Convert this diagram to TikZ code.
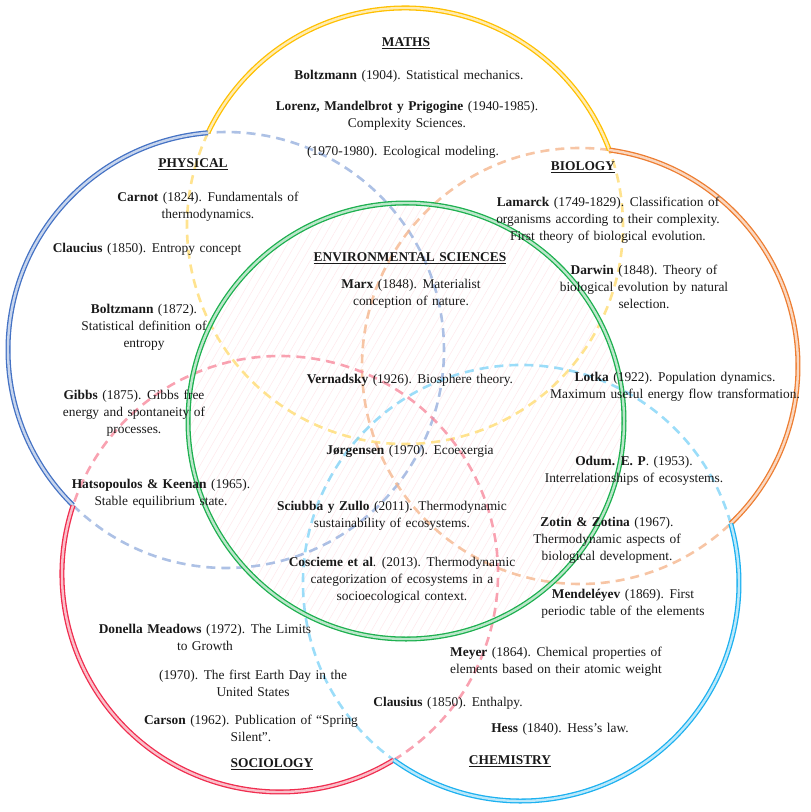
\documentclass[tikz,border=0pt]{standalone}
\usepackage{fontspec}
\setmainfont[WordSpace={1.35}]{Liberation Serif}
\usetikzlibrary{patterns.meta}
\definecolor{cY}{HTML}{FFC000}
\definecolor{cB}{HTML}{4472C4}
\definecolor{cO}{HTML}{ED7D31}
\definecolor{cR}{HTML}{F02D4F}
\definecolor{cC}{HTML}{1CB1F0}
\definecolor{cG}{HTML}{1DB04F}
\newcommand{\fsz}{\fontsize{13.4}{17}\selectfont}
\tikzset{
  txt/.style={font=\fsz, align=center, inner sep=0pt, text=black!90},
  ttl/.style={font=\fsz\bfseries, inner sep=0pt, text=black!90},
  solidring/.style={draw=#1, line width=1.3pt, double=#1!30, double distance=2.4pt},
  dashring/.style={draw=#1!55, line width=2.6pt, dash pattern=on 9pt off 6pt, opacity=0.8},
}
\newcommand{\ttltext}[1]{\underline{#1}}
\begin{document}
\begin{tikzpicture}[x=1pt,y=1pt]
\useasboundingbox (0,-812) rectangle (811,0);
\def\R{218}
\coordinate (Y) at (405,-226);
\coordinate (B) at (226,-350);
\coordinate (O) at (580,-366);
\coordinate (Rd) at (280,-574);
\coordinate (C) at (521,-583);
\coordinate (G) at (406,-421);
% faint hatching inside the central circle
\fill[pattern={Lines[angle=60,distance=7pt,line width=0.6pt]}, pattern color=cR!10] (G) circle[radius=\R];
% inner dashed portions
\draw[dashring=cY] ([shift={(154.7:\R)}]Y) arc[start angle=154.7, end angle=380.4, radius=\R];
\draw[dashring=cB] ([shift={(225.4:\R)}]B) arc[start angle=225.4, end angle=454.8, radius=\R];
\draw[dashring=cO] ([shift={(82.3:\R)}]O) arc[start angle=82.3, end angle=313.7, radius=\R];
\draw[dashring=cR] ([shift={(301.4:\R)}]Rd) arc[start angle=301.4, end angle=521.7, radius=\R];
\draw[dashring=cC] ([shift={(15.8:\R)}]C) arc[start angle=15.8, end angle=234.3, radius=\R];
% outer solid portions
\draw[solidring=cY] ([shift={(20.4:\R)}]Y) arc[start angle=20.4, end angle=154.7, radius=\R];
\draw[solidring=cB] ([shift={(94.8:\R)}]B) arc[start angle=94.8, end angle=225.4, radius=\R];
\draw[solidring=cO] ([shift={(-46.3:\R)}]O) arc[start angle=-46.3, end angle=82.3, radius=\R];
\draw[solidring=cR] ([shift={(161.7:\R)}]Rd) arc[start angle=161.7, end angle=301.4, radius=\R];
\draw[solidring=cC] ([shift={(234.3:\R)}]C) arc[start angle=234.3, end angle=375.8, radius=\R];
\draw[solidring=cG] (G) circle[radius=\R];
% MATHS
\node[ttl] (tM) at (406,-43) {\ttltext{MATHS}};
\node[txt] (m1) at (409,-76) {\textbf{Boltzmann} (1904). Statistical mechanics.};
\node[txt] (m2) at (407,-115.5) {\textbf{Lorenz, Mandelbrot y Prigogine} (1940-1985).\\Complexity Sciences.};
\node[txt] (m3) at (403,-152) {(1970-1980). Ecological modeling.};
% PHYSICAL
\node[ttl] (tP) at (193,-164) {\ttltext{PHYSICAL}};
\node[txt] (p1) at (208,-206.5) {\textbf{Carnot} (1824). Fundamentals of\\thermodynamics.};
\node[txt] (p2) at (147,-249) {\textbf{Claucius} (1850). Entropy concept};
\node[txt] (p3) at (144,-327) {\textbf{Boltzmann} (1872).\\Statistical definition of\\entropy};
\node[txt] (p4) at (134,-413.5) {\textbf{Gibbs} (1875). Gibbs free\\energy and spontaneity of\\processes.};
\node[txt] (p5) at (161,-494) {\textbf{Hatsopoulos \& Keenan} (1965).\\Stable equilibrium state.};
% ENVIRONMENTAL SCIENCES
\node[ttl] (tE) at (410,-258) {\ttltext{ENVIRONMENTAL SCIENCES}};
\node[txt] (e1) at (411,-293.5) {\textbf{Marx} (1848). Materialist\\conception of nature.};
\node[txt] (e2) at (410,-380) {\textbf{Vernadsky} (1926). Biosphere theory.};
\node[txt] (e3) at (410,-451) {\textbf{Jørgensen} (1970). Ecoexergia};
\node[txt] (e4) at (392,-515.5) {\textbf{Sciubba y Zullo} (2011). Thermodynamic\\sustainability of ecosystems.};
\node[txt] (e5) at (402,-580) {\textbf{Coscieme et al}. (2013). Thermodynamic\\categorization of ecosystems in a\\socioecological context.};
% BIOLOGY
\node[ttl] (tB) at (583,-167) {\ttltext{BIOLOGY}};
\node[txt] (b1) at (608,-220) {\textbf{Lamarck} (1749-1829). Classification of\\organisms according to their complexity.\\First theory of biological evolution.};
\node[txt] (b2) at (644,-287) {\textbf{Darwin} (1848). Theory of\\biological evolution by natural\\selection.};
\node[txt] (b3) at (675,-386.5) {\textbf{Lotka} (1922). Population dynamics.\\Maximum useful energy flow transformation.};
\node[txt] (b4) at (634,-470.5) {\textbf{Odum. E. P}. (1953).\\Interrelationships of ecosystems.};
\node[txt] (b5) at (607,-540) {\textbf{Zotin \& Zotina} (1967).\\Thermodynamic aspects of\\biological development.};
% CHEMISTRY
\node[txt] (c1) at (623,-603.5) {\textbf{Mendeléyev} (1869). First\\periodic table of the elements};
\node[txt] (c2) at (556,-661.5) {\textbf{Meyer} (1864). Chemical properties of\\elements based on their atomic weight};
\node[txt] (c3) at (448,-703) {\textbf{Clausius} (1850). Enthalpy.};
\node[txt] (c4) at (560,-729) {\textbf{Hess} (1840). Hess's law.};
\node[ttl] (tC) at (510,-761) {\ttltext{CHEMISTRY}};
% SOCIOLOGY
\node[txt] (s1) at (205,-637.5) {\textbf{Donella Meadows} (1972). The Limits\\to Growth};
\node[txt] (s2) at (253,-683.5) {(1970). The first Earth Day in the\\United States};
\node[txt] (s3) at (251,-728.5) {\textbf{Carson} (1962). Publication of “Spring\\Silent”.};
\node[ttl] (tS) at (272,-764) {\ttltext{SOCIOLOGY}};
\end{tikzpicture}
\end{document}
